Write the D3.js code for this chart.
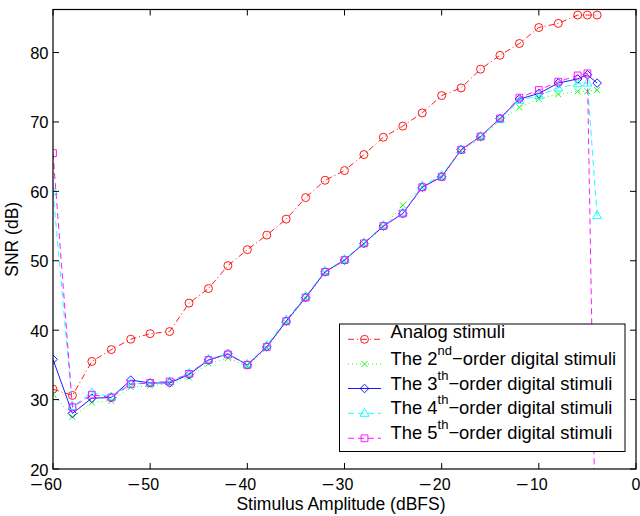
<!DOCTYPE html>
<html>
<head>
<meta charset="utf-8">
<script src="https://cdn.jsdelivr.net/npm/d3@7/dist/d3.min.js"></script>
<style>
  body { margin: 0; background: #fff; }
  svg { font-family: "Liberation Sans", Arial, sans-serif; }
</style>
</head>
<body>
<svg id="chart" width="640" height="516"></svg>
<script>
// stimulus amplitudes (dBFS)
var amplitude = [-60, -58, -56, -54, -52, -50, -48, -46, -44, -42, -40, -38, -36, -34, -32,
  -30, -28, -26, -24, -22, -20, -18, -16, -14, -12, -10, -8, -6, -5, -4];

// SNR (dB) for each stimulus type
var analog = [31.5, 30.6, 35.5, 37.2, 38.7, 39.5, 39.8, 43.9, 46.0, 49.3, 51.6, 53.7, 56.0, 59.1, 61.6,
  63.0, 65.3, 67.8, 69.4, 71.3, 73.8, 74.9, 77.6, 79.6, 81.3, 83.6, 84.2, 85.4, 85.4, 85.4];
var order2 = [30.8, 27.5, 29.6, 29.8, 31.8, 32.0, 32.3, 33.2, 35.2, 36.0, 34.8, 37.4, 41.1, 44.6, 48.3,
  50.0, 52.4, 54.9, 58.0, 60.6, 62.0, 65.8, 67.7, 70.2, 72.1, 73.3, 74.0, 74.4, 74.4, 74.6];
var order3 = [35.8, 28.0, 30.2, 30.3, 32.8, 32.4, 32.4, 33.6, 35.7, 36.6, 35.0, 37.6, 41.3, 44.7, 48.4,
  50.1, 52.5, 55.0, 56.8, 60.6, 62.1, 66.0, 67.9, 70.5, 73.3, 74.1, 75.6, 76.2, 76.8, 75.6];
var order4 = [60.0, 29.0, 31.0, 30.4, 32.3, 32.4, 32.6, 33.8, 35.8, 36.6, 35.1, 37.8, 41.5, 44.9, 48.5,
  50.2, 52.6, 55.1, 56.9, 60.8, 62.3, 66.0, 67.9, 70.4, 73.1, 73.8, 74.9, 75.5, 75.6, 56.5];
var order5 = [65.5, 28.9, 30.7, 30.3, 32.2, 32.4, 32.6, 33.7, 35.7, 36.5, 35.0, 37.6, 41.3, 44.7, 48.4,
  50.1, 52.5, 55.0, 56.8, 60.6, 62.1, 66.0, 67.9, 70.5, 73.5, 74.6, 75.8, 76.7, 77.0, -4];

var xTicks = [-60, -50, -40, -30, -20, -10, 0];
var yTicks = [20, 30, 40, 50, 60, 70, 80];

var LEFT = 53, RIGHT = 636, TOP = 9.5, BOTTOM = 469;

var x = d3.scaleLinear().domain([-60, 0]).range([LEFT, RIGHT]);
var y = d3.scaleLinear().domain([20, 86.2]).range([BOTTOM, TOP]);

var svg = d3.select("#chart");

svg.append("defs").append("clipPath")
    .attr("id", "plotclip")
  .append("rect")
    .attr("x", LEFT).attr("y", TOP)
    .attr("width", RIGHT - LEFT).attr("height", BOTTOM - TOP);

var series = [
  { values: analog, color: "#ff0000", dash: "6,3,1,3", marker: "circle",
    label: ["Analog stimuli"] },
  { values: order2, color: "#00ff00", dash: "1,3", marker: "x",
    label: ["The 2", "nd", "\u2212order digital stimuli"] },
  { values: order3, color: "#0000ff", dash: null, marker: "diamond",
    label: ["The 3", "th", "\u2212order digital stimuli"] },
  { values: order4, color: "#00ffff", dash: "6,4", marker: "triangle",
    label: ["The 4", "th", "\u2212order digital stimuli"] },
  { values: order5, color: "#ff00ff", dash: "6,4", marker: "square",
    label: ["The 5", "th", "\u2212order digital stimuli"] }
];

function markerPath(type) {
  var s;
  switch (type) {
    case "circle":
      return "M4,0A4,4 0 1,1 -4,0A4,4 0 1,1 4,0Z";
    case "x":
      s = 3;
      return "M" + -s + "," + -s + "L" + s + "," + s + "M" + -s + "," + s + "L" + s + "," + -s;
    case "diamond":
      s = 4.3;
      return "M0," + -s + "L" + s + ",0L0," + s + "L" + -s + ",0Z";
    case "triangle":
      return "M0,-4.8L4.5,3L-4.5,3Z";
    case "square":
      s = 3.4;
      return "M" + -s + "," + -s + "H" + s + "V" + s + "H" + -s + "Z";
  }
}

var plot = svg.append("g").attr("clip-path", "url(#plotclip)");

var line = d3.line()
    .x(function(d) { return x(d[0]); })
    .y(function(d) { return y(d[1]); });

series.forEach(function(s) {
  var pts = amplitude.map(function(a, i) { return [a, s.values[i]]; });
  plot.append("path")
      .datum(pts)
      .attr("d", line)
      .attr("fill", "none")
      .attr("stroke", s.color)
      .attr("stroke-width", 0.9)
      .attr("stroke-dasharray", s.dash);
  plot.selectAll(null)
      .data(pts)
    .enter().append("path")
      .attr("transform", function(d) { return "translate(" + x(d[0]) + "," + y(d[1]) + ")"; })
      .attr("d", markerPath(s.marker))
      .attr("fill", "none")
      .attr("stroke", s.color)
      .attr("stroke-width", 0.9);
});

// axes box with inward ticks
var axes = svg.append("g").attr("font-size", 16).attr("fill", "#000");
axes.append("rect")
    .attr("x", LEFT).attr("y", TOP)
    .attr("width", RIGHT - LEFT).attr("height", BOTTOM - TOP)
    .attr("fill", "none").attr("stroke", "#000").attr("stroke-width", 1.2);

xTicks.forEach(function(t) {
  axes.append("line")
      .attr("x1", x(t)).attr("x2", x(t)).attr("y1", BOTTOM).attr("y2", BOTTOM - 6)
      .attr("stroke", "#000");
  axes.append("line")
      .attr("x1", x(t)).attr("x2", x(t)).attr("y1", TOP).attr("y2", TOP + 6)
      .attr("stroke", "#000");
  // digits centred on the tick, minus sign hanging to the left
  var lab = axes.append("text")
      .attr("x", x(t)).attr("y", 490)
      .attr("text-anchor", "middle")
      .text(Math.abs(t));
  if (t < 0) {
    var w = lab.node().getComputedTextLength();
    var mx = x(t) - w / 2 - 1.5;
    axes.append("text")
        .attr("x", mx).attr("y", 490)
        .attr("text-anchor", "end")
        .attr("transform", "translate(" + mx + ",0)scale(1.35,1)translate(" + -mx + ",0)")
        .text("\u2212");
  }
});

yTicks.forEach(function(t) {
  axes.append("line")
      .attr("x1", LEFT).attr("x2", LEFT + 6).attr("y1", y(t)).attr("y2", y(t))
      .attr("stroke", "#000");
  axes.append("line")
      .attr("x1", RIGHT).attr("x2", RIGHT - 6).attr("y1", y(t)).attr("y2", y(t))
      .attr("stroke", "#000");
  axes.append("text")
      .attr("x", 48.5).attr("y", y(t) + 6.5)
      .attr("text-anchor", "end")
      .attr("font-size", 16.5)
      .text(t);
});

axes.append("text")
    .attr("x", 341).attr("y", 510)
    .attr("text-anchor", "middle")
    .attr("font-size", 17.5)
    .text("Stimulus Amplitude (dBFS)");

axes.append("text")
    .attr("transform", "translate(18," + (TOP + BOTTOM) / 2 + ")rotate(-90)")
    .attr("text-anchor", "middle")
    .attr("font-size", 17.5)
    .text("SNR (dB)");

// legend
var legend = svg.append("g").attr("font-size", 18.4);
legend.append("rect")
    .attr("x", 339.5).attr("y", 324)
    .attr("width", 285.5).attr("height", 127.5)
    .attr("fill", "#fff").attr("stroke", "#000").attr("stroke-width", 1);

var rowY = [339.3, 364, 388.5, 413.3, 438.3];
series.forEach(function(s, i) {
  var g = legend.append("g").attr("transform", "translate(0," + rowY[i] + ")");
  g.append("line")
      .attr("x1", 348).attr("x2", 381)
      .attr("stroke", s.color).attr("stroke-width", 0.9)
      .attr("stroke-dasharray", s.dash);
  g.append("path")
      .attr("transform", "translate(364.5,0)")
      .attr("d", markerPath(s.marker))
      .attr("fill", "none").attr("stroke", s.color).attr("stroke-width", 0.9);
  var t = g.append("text").attr("x", 390.5).attr("y", i === 0 ? -1 : 1);
  t.append("tspan").text(s.label[0]);
  if (s.label.length > 1) {
    t.append("tspan").attr("dy", -10).attr("font-size", 13).text(s.label[1]);
    t.append("tspan").attr("dy", 10).text(s.label[2]);
  }
});
</script>
</body>
</html>
